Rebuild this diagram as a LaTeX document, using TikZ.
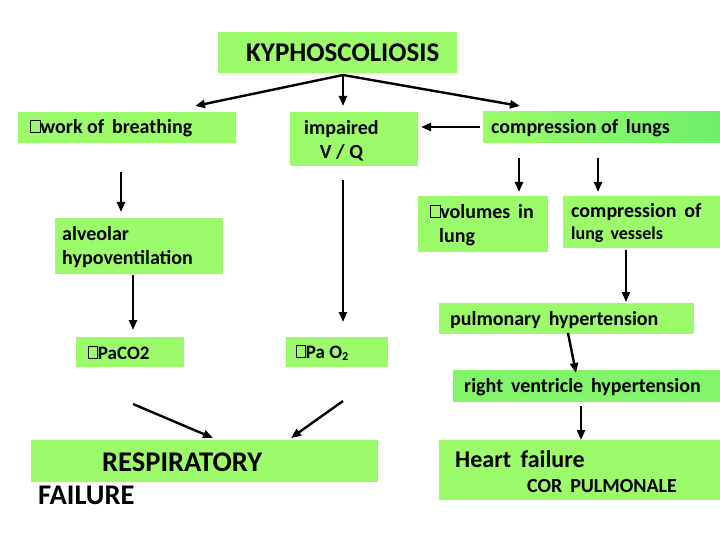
\documentclass[tikz,border=0pt]{standalone}
\usepackage{fontspec}
\setmainfont{Carlito}
\usetikzlibrary{arrows.meta}
\definecolor{bg}{HTML}{9CFB6A}
\definecolor{bg2}{HTML}{6EF06A}
\newcommand{\sq}{\raisebox{0.05em}{\fboxsep=0pt\fboxrule=0.6pt\fbox{\phantom{\rule{0.45em}{0.6em}}}}}
\begin{document}
\begin{tikzpicture}[x=1pt,y=-1pt,
  bx/.style={fill=bg,draw=none,inner sep=0},
  tx/.style={font=\fontsize{20}{24}\selectfont\bfseries,anchor=west,inner sep=0,align=left},
  ar/.style={line width=2.4pt,-{Triangle[length=10pt,width=8pt]}}]
\useasboundingbox[fill=white] (0,0) rectangle (720,540);
\fill[bg] (218,32) rectangle (457,73);
\node[tx,font=\fontsize{27}{30}\selectfont\bfseries] (k) at (246,53) {KYPHOSCOLIOSIS};
\fill[bg] (18,112) rectangle (236,143);
\node[tx] (wb) at (30,128) {\sq work of\, breathing};
\fill[bg] (290,112) rectangle (418,166);
\node[tx,align=center] (vq) at (304,141) {impaired\\V / Q};
\shade[left color=bg,right color=bg2] (483,112) rectangle (720,143);
\node[tx] (cl) at (491,128) {compression of\, lungs};
\fill[bg] (418,196) rectangle (548,252);
\node[tx,align=left] (vl) at (430,225) {\sq volumes\, in\\\ \ lung};
\fill[bg] (563,196) rectangle (720,248);
\node[tx] (cv) at (571,223) {compression\, of\\[-2pt]{\fontsize{18}{20}\selectfont lung\, vessels}};
\fill[bg] (55,218) rectangle (223,274);
\node[tx] (ah) at (62,247) {alveolar\\hypoventilation};
\fill[bg] (439,303) rectangle (694,334);
\node[tx] (ph) at (450,320) {pulmonary\, hypertension};
\fill[bg] (76,337) rectangle (184,367);
\node[tx,font=\fontsize{19}{21}\selectfont\bfseries] (pc) at (88,353) {\sq PaCO2};
\fill[bg] (286,337) rectangle (388,367);
\node[tx,font=\fontsize{19}{21}\selectfont\bfseries] (po) at (296,353) {\sq Pa O\raisebox{-0.3ex}{\fontsize{12}{12}\selectfont 2}};
\fill[bg2!60!bg] (453,370) rectangle (720,402);
\node[tx] (rv) at (464,387) {right\, ventricle\, hypertension};
\fill[bg] (31,440) rectangle (378,482);
\node[tx,font=\fontsize{28.5}{30}\selectfont\bfseries] (rf) at (102,462) {RESPIRATORY};
\node[tx,font=\fontsize{28.5}{30}\selectfont\bfseries] (fl) at (38,495) {FAILURE};
\fill[bg] (439,440) rectangle (720,500);
\node[tx,font=\fontsize{24}{26}\selectfont\bfseries] (hf) at (455,459) {Heart\, failure};
\node[tx,font=\fontsize{20}{22}\selectfont\bfseries] (cp) at (527,486) {COR\, PULMONALE};
\coordinate (k0) at (343,75);
\draw[ar] (k0) -- (195,106);
\draw[ar] (k0) -- (343,106);
\draw[ar] (k0) -- (520,106);
\draw[ar] (480,127) -- (421,127);
\draw[ar] (519,158) -- (519,192);
\draw[ar] (598,158) -- (598,192);
\draw[ar] (121,172) -- (121,212);
\draw[ar] (343,180) -- (343,322);
\draw[ar] (133,275) -- (133,330);
\draw[ar] (626,250) -- (626,302);
\draw[ar] (568,333) -- (576,373);
\draw[ar] (581,406) -- (581,440);
\draw[ar] (133,404) -- (213,438);
\draw[ar] (343,401) -- (291,438);
\end{tikzpicture}
\end{document}
